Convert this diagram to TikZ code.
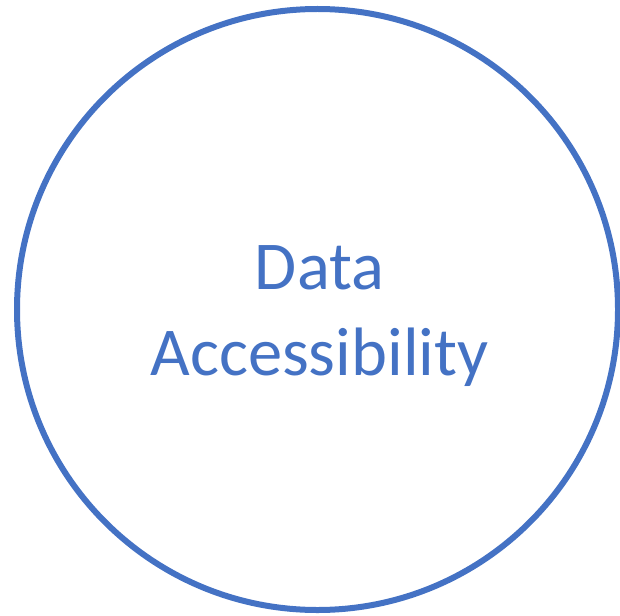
\documentclass[tikz,border=0pt]{standalone}
\usepackage{fontspec}
\setmainfont{Carlito}
\definecolor{ringColor}{HTML}{4472C4}

\begin{document}
\begin{tikzpicture}[x=1pt,y=-1pt]

          \tikzstyle{ringNode} = [circle, draw=ringColor, line width=6pt, minimum size=601pt, inner sep=0pt];
          \tikzstyle{labelNode} = [ringColor, align=center, font=\fontsize{68.5}{86}\selectfont];

          \useasboundingbox (0,0) rectangle (620,615);

          \node[ringNode] (ring) at (317.5,309.5) {};
          \node[labelNode] (label) at (319.5,316) {Data\\Accessibility};
        \end{tikzpicture}
\end{document}
